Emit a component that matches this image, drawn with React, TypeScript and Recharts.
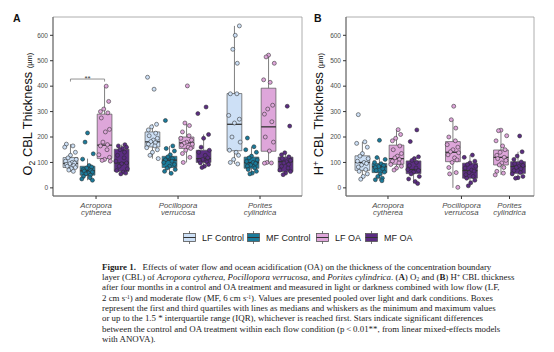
// CBL thickness boxplots (O2 and H+) - Recharts recreation
import React from 'react';
import {
    ComposedChart,
    XAxis,
    YAxis,
    Scatter,
    ReferenceArea,
    ReferenceLine,
    ReferenceDot
} from 'recharts';

type Stat = [number, number, number, number, number] | null; // min, q1, median, q3, max

const groups = ['LF Control', 'MF Control', 'LF OA', 'MF OA'];
const groupColors = ['#cde0f6', '#1b7b9b', '#dea6da', '#5b2d82'];
const species = [['Acropora', 'cytherea'], ['Pocillopora', 'verrucosa'], ['Porites', 'cylindrica']];
const yTicks = [0, 100, 200, 300, 400, 500, 600];

// Panel A: O2 CBL thickness, boxes per species
const o2BoxLFControl: Stat[] = [[63, 80, 96, 119, 172], [115, 161, 181, 220, 250], [94, 146, 250, 371, 637]];
const o2BoxMFControl: Stat[] = [[30, 50, 67, 85, 115], [57, 80, 109, 124, 165], [55, 77, 99, 121, 162]];
const o2BoxLFOA: Stat[] = [[105, 115, 168, 290, 400], [100, 155, 177, 200, 255], [97, 144, 240, 392, 522]];
const o2BoxMFOA: Stat[] = [[55, 65, 98, 152, 170], [80, 100, 115, 148, 210], [51, 64, 103, 121, 138]];

// Panel A: individual measurements
const o2PtsLFControl = [
    [172, 165, 160, 140, 128, 118, 112, 105, 100, 98, 95, 92, 88, 85, 80, 76, 70, 65],
    [435, 388, 250, 240, 228, 215, 205, 195, 188, 182, 178, 172, 165, 158, 150, 140, 128, 115],
    [637, 600, 545, 490, 370, 370, 285, 270, 255, 200, 180, 148, 140, 128, 112, 100, 94]
];
const o2PtsMFControl = [
    [216, 180, 134, 113, 88, 82, 78, 72, 68, 66, 62, 58, 55, 50, 45, 40, 35, 30],
    [265, 165, 155, 145, 130, 122, 115, 110, 105, 100, 92, 85, 78, 72, 65, 57],
    [196, 162, 150, 140, 125, 118, 110, 104, 100, 96, 90, 85, 78, 72, 65, 58, 55]
];
const o2PtsLFOA = [
    [400, 340, 310, 300, 295, 275, 230, 220, 180, 170, 165, 150, 130, 120, 112, 108, 105],
    [401, 255, 245, 220, 205, 195, 188, 180, 176, 172, 168, 160, 155, 148, 135, 120, 100],
    [522, 515, 490, 425, 415, 325, 310, 290, 260, 200, 180, 145, 100, 98, 97]
];
const o2PtsMFOA = [
    [170, 165, 160, 155, 150, 140, 128, 118, 105, 98, 95, 85, 75, 68, 62, 58, 55],
    [318, 292, 210, 195, 160, 148, 140, 128, 118, 112, 108, 102, 98, 92, 85, 80],
    [321, 243, 138, 130, 122, 115, 108, 103, 98, 92, 85, 78, 70, 64, 58, 52]
];

// Panel B: H+ CBL thickness (controls only measured for Acropora)
const hBoxLFControl: Stat[] = [[34, 69, 100, 126, 181], null, null];
const hBoxMFControl: Stat[] = [[28, 60, 83, 96, 119], null, null];
const hBoxLFOA: Stat[] = [[70, 93, 115, 168, 229], [0, 103, 140, 182, 268], [51, 90, 120, 149, 227]];
const hBoxMFOA: Stat[] = [[17, 56, 72, 106, 122], [8, 38, 68, 97, 129], [38, 57, 84, 103, 142]];

const hPtsLFControl = [
    [288, 181, 175, 160, 135, 125, 115, 105, 100, 96, 90, 82, 72, 65, 55, 45, 34],
    null,
    null
];
const hPtsMFControl = [
    [187, 119, 112, 100, 95, 88, 84, 80, 75, 68, 62, 55, 45, 38, 32, 28],
    null,
    null
];
const hPtsLFOA = [
    [229, 210, 195, 185, 165, 150, 135, 125, 118, 112, 105, 98, 92, 85, 78, 70],
    [321, 268, 235, 200, 185, 170, 160, 150, 142, 138, 130, 118, 110, 100, 80, 60, 55, 2],
    [227, 225, 205, 185, 165, 150, 140, 128, 120, 115, 108, 98, 90, 80, 65, 58, 51]
];
const hPtsMFOA = [
    [228, 182, 122, 115, 108, 100, 88, 78, 72, 68, 62, 55, 45, 35, 25, 17],
    [129, 120, 105, 98, 92, 85, 78, 70, 66, 60, 52, 45, 38, 30, 20, 8],
    [204, 142, 125, 112, 102, 95, 88, 84, 80, 75, 68, 60, 55, 45, 40, 38]
];

// layout constants
const BOX_STEP = 0.208;
const BOX_WIDTH = 0.18;
const JITTER = [-0.05, 0.03, -0.07, 0.06, 0.0, -0.03, 0.07, -0.06, 0.02, 0.05, -0.01, -0.05, 0.04, -0.04, 0.06, 0.01, -0.02, 0.035];
const Y_DOMAIN: [number, number] = [-32, 672];
const SANS = '"Liberation Sans", Arial, sans-serif';

const SpeciesTick = (props: any) => {
    const { x, y, payload, catPos } = props;
    let idx = 0;
    catPos.forEach((c: number, i: number) => {
        if (Math.abs(c - payload.value) < Math.abs(catPos[idx] - payload.value)) idx = i;
    });
    const [genus, epithet] = species[idx];
    return (
        <text x={x} y={y} textAnchor="middle" fontStyle="italic" fontSize={7.8} fill="#4d4d4d">
            <tspan x={x} dy={6.5}>{genus}</tspan>
            <tspan x={x} dy={7.9}>{epithet}</tspan>
        </text>
    );
};

interface PanelProps {
    boxes: Stat[][];
    points: (number[] | null)[][];
    catPos: number[];
    domain: [number, number];
    left: number;
    width: number;
    marginLeft: number;
    marginRight: number;
    bracket?: boolean;
}

const Panel: React.FC<PanelProps> = ({ boxes, points, catPos, domain, left, width, marginLeft, marginRight, bracket }) => {
    // dodge positions of the groups present at each species
    const items: { g: number; s: number; x: number; stat: [number, number, number, number, number]; pts: number[] }[] = [];
    catPos.forEach((c, s) => {
        const present = groups.map((_, g) => g).filter(g => boxes[g][s]);
        present.forEach((g, k) => {
            items.push({
                g,
                s,
                x: c + (k - (present.length - 1) / 2) * BOX_STEP,
                stat: boxes[g][s] as [number, number, number, number, number],
                pts: points[g][s] || []
            });
        });
    });

    return (
        <div style={{ position: 'absolute', left, top: 0 }}>
            <ComposedChart width={width} height={222} margin={{ top: 17, right: marginRight, bottom: 0, left: marginLeft }}>
                <XAxis
                    type="number"
                    dataKey="x"
                    domain={domain}
                    allowDataOverflow
                    ticks={catPos}
                    interval={0}
                    height={26}
                    tickSize={3}
                    tickMargin={2}
                    tickLine={{ stroke: '#333' }}
                    axisLine={{ stroke: '#666' }}
                    tick={(p: any) => <SpeciesTick {...p} catPos={catPos} />}
                />
                <YAxis
                    type="number"
                    dataKey="y"
                    domain={Y_DOMAIN}
                    allowDataOverflow
                    ticks={yTicks}
                    interval={0}
                    width={20}
                    tickSize={3}
                    tickMargin={2}
                    tickLine={{ stroke: '#333' }}
                    axisLine={{ stroke: '#666' }}
                    tick={{ fontSize: 6.5, fill: '#4d4d4d' }}
                />

                {/* panel border */}
                <ReferenceArea
                    x1={domain[0]}
                    x2={domain[1]}
                    y1={Y_DOMAIN[0]}
                    y2={Y_DOMAIN[1]}
                    fill="none"
                    stroke="#9a9a9a"
                    strokeWidth={0.8}
                    ifOverflow="visible"
                />

                {/* whiskers */}
                {items.map(it => (
                    <ReferenceLine
                        key={`wu-${it.g}-${it.s}`}
                        segment={[{ x: it.x, y: it.stat[3] }, { x: it.x, y: it.stat[4] }]}
                        stroke="#5f5f5f"
                        strokeWidth={0.8}
                    />
                ))}
                {items.map(it => (
                    <ReferenceLine
                        key={`wl-${it.g}-${it.s}`}
                        segment={[{ x: it.x, y: it.stat[0] }, { x: it.x, y: it.stat[1] }]}
                        stroke="#5f5f5f"
                        strokeWidth={0.8}
                    />
                ))}

                {/* boxes */}
                {items.map(it => (
                    <ReferenceArea
                        key={`b-${it.g}-${it.s}`}
                        x1={it.x - BOX_WIDTH / 2}
                        x2={it.x + BOX_WIDTH / 2}
                        y1={it.stat[1]}
                        y2={it.stat[3]}
                        fill={groupColors[it.g]}
                        fillOpacity={1}
                        stroke="#555"
                        strokeWidth={0.7}
                    />
                ))}

                {/* medians */}
                {items.map(it => (
                    <ReferenceLine
                        key={`m-${it.g}-${it.s}`}
                        segment={[{ x: it.x - BOX_WIDTH / 2, y: it.stat[2] }, { x: it.x + BOX_WIDTH / 2, y: it.stat[2] }]}
                        stroke="#333"
                        strokeWidth={1.3}
                    />
                ))}

                {/* jittered measurements */}
                {items.map(it => (
                    <Scatter
                        key={`p-${it.g}-${it.s}`}
                        name={groups[it.g]}
                        data={it.pts.map((v, i) => ({
                            x: it.x + JITTER[(i + it.g * 4 + it.s * 7) % JITTER.length],
                            y: v
                        }))}
                        isAnimationActive={false}
                        shape={(p: any) => (
                            <circle cx={p.cx} cy={p.cy} r={2} fill={groupColors[it.g]} stroke="#2b2b2b" strokeWidth={0.55} />
                        )}
                    />
                ))}

                {/* significance bracket LF Control vs LF OA, Acropora */}
                {bracket && (
                    <ReferenceLine
                        segment={[{ x: catPos[0] - 1.5 * BOX_STEP, y: 428 }, { x: catPos[0] + 0.5 * BOX_STEP, y: 428 }]}
                        stroke="#777"
                        strokeWidth={0.8}
                    />
                )}
                {bracket && (
                    <ReferenceLine
                        segment={[{ x: catPos[0] - 1.5 * BOX_STEP, y: 428 }, { x: catPos[0] - 1.5 * BOX_STEP, y: 418 }]}
                        stroke="#777"
                        strokeWidth={0.8}
                    />
                )}
                {bracket && (
                    <ReferenceLine
                        segment={[{ x: catPos[0] + 0.5 * BOX_STEP, y: 428 }, { x: catPos[0] + 0.5 * BOX_STEP, y: 418 }]}
                        stroke="#777"
                        strokeWidth={0.8}
                    />
                )}
                {bracket && (
                    <ReferenceDot
                        x={catPos[0] - 0.5 * BOX_STEP}
                        y={428}
                        r={0}
                        shape={(p: any) => (
                            <text x={p.cx} y={p.cy + 1.5} textAnchor="middle" fontSize={8} fill="#444">**</text>
                        )}
                    />
                )}
            </ComposedChart>
        </div>
    );
};

const LegendIcon = ({ color }: { color: string }) => (
    <svg width={13} height={13} style={{ display: 'block' }}>
        <line x1={6.5} y1={0} x2={6.5} y2={13} stroke="#555" strokeWidth={0.8} />
        <rect x={0.5} y={2.5} width={12} height={8} fill={color} stroke="#555" strokeWidth={0.8} />
        <line x1={0.5} y1={6.5} x2={12.5} y2={6.5} stroke="#333" strokeWidth={1} />
    </svg>
);

const legendLeft = [183, 247, 316, 365];

// small raised / lowered caption characters that stay inside their line
const supStyle: React.CSSProperties = { fontSize: '0.62em', verticalAlign: '2.3px', lineHeight: 0 };
const subStyle: React.CSSProperties = { fontSize: '0.62em', verticalAlign: '-1px', lineHeight: 0 };

const App: React.FC = () => {
    return (
        <div style={{ position: 'absolute', left: 0, top: 0, width: 554, height: 352, background: '#fff', overflow: 'hidden', fontFamily: SANS }}>
            <Panel
                boxes={[o2BoxLFControl, o2BoxMFControl, o2BoxLFOA, o2BoxMFOA]}
                points={[o2PtsLFControl, o2PtsMFControl, o2PtsLFOA, o2PtsMFOA]}
                catPos={[1, 2, 3]}
                domain={[0.475, 3.512]}
                left={0}
                width={310}
                marginLeft={33}
                marginRight={8}
                bracket
            />
            <Panel
                boxes={[hBoxLFControl, hBoxMFControl, hBoxLFOA, hBoxMFOA]}
                points={[hPtsLFControl, hPtsMFControl, hPtsLFOA, hPtsMFOA]}
                catPos={[1, 1.896, 2.482]}
                domain={[0.488, 2.781]}
                left={300}
                width={240}
                marginLeft={26}
                marginRight={6}
            />

            {/* panel letters and y-axis titles */}
            <svg width={554} height={230} style={{ position: 'absolute', left: 0, top: 0, pointerEvents: 'none' }}>
                <text x={13} y={22} fontSize={10.5} fontWeight="bold" fill="#111">A</text>
                <text x={314} y={22} fontSize={10.5} fontWeight="bold" fill="#111">B</text>
                <text transform="translate(32,114) rotate(-90)" textAnchor="middle" fontSize={12.8} fill="#111">
                    O<tspan dy={2.5} fontSize={8.5}>2</tspan>
                    <tspan dy={-2.5}> CBL Thickness </tspan>
                    <tspan fontSize={7.5}>(µm)</tspan>
                </text>
                <text transform="translate(323,114) rotate(-90)" textAnchor="middle" fontSize={12.8} fill="#111">
                    H<tspan dy={-4} fontSize={8.5}>+</tspan>
                    <tspan dy={4}> CBL Thickness </tspan>
                    <tspan fontSize={7.5}>(µm)</tspan>
                </text>
            </svg>

            {/* legend */}
            {groups.map((g, i) => (
                <div
                    key={g}
                    style={{ position: 'absolute', left: legendLeft[i], top: 231, display: 'flex', alignItems: 'center', fontSize: 9, color: '#222', whiteSpace: 'nowrap' }}
                >
                    <LegendIcon color={groupColors[i]} />
                    <span style={{ marginLeft: 6 }}>{g}</span>
                </div>
            ))}

            {/* figure caption */}
            <div
                style={{
                    position: 'absolute',
                    left: 102,
                    top: 261.5,
                    fontFamily: '"Liberation Serif", "Times New Roman", serif',
                    fontSize: 8.9,
                    lineHeight: '10.35px',
                    color: '#222',
                    whiteSpace: 'nowrap'
                }}
            >
                <div><b>Figure 1.</b>&nbsp;&nbsp; Effects of water flow and ocean acidification (OA) on the thickness of the concentration boundary</div>
                <div>layer (CBL) of <i>Acropora cytherea</i>, <i>Pocillopora verrucosa</i>, and <i>Porites cylindrica</i>. (<b>A</b>) O<span style={subStyle}>2</span> and (<b>B</b>) H<span style={supStyle}>+</span> CBL thickness</div>
                <div>after four months in a control and OA treatment and measured in light or darkness combined with low flow (LF,</div>
                <div>2 cm s<span style={supStyle}>-1</span>) and moderate flow (MF, 6 cm s<span style={supStyle}>-1</span>). Values are presented pooled over light and dark conditions. Boxes</div>
                <div>represent the first and third quartiles with lines as medians and whiskers as the minimum and maximum values</div>
                <div>or up to the 1.5 * interquartile range (IQR), whichever is reached first. Stars indicate significant differences</div>
                <div>between the control and OA treatment within each flow condition (p&thinsp;&lt;&thinsp;0.01**, from linear mixed-effects models</div>
                <div>with ANOVA).</div>
            </div>
        </div>
    );
};

export default App;
